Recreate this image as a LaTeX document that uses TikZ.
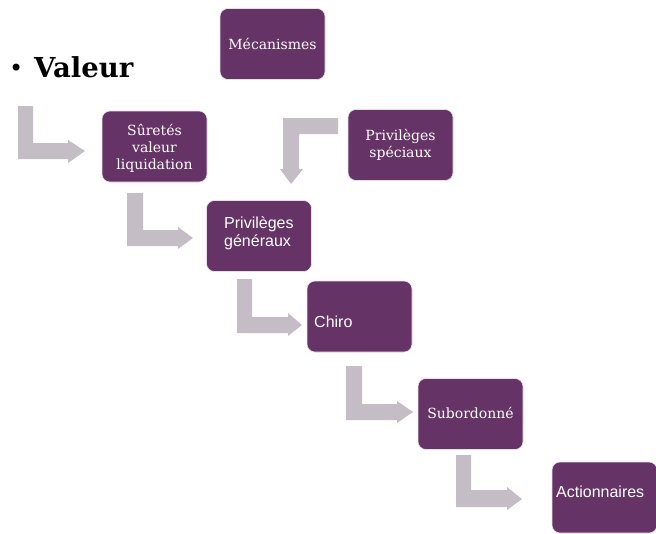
\documentclass[tikz,border=0pt]{standalone}
\usepackage{fontspec}
\newfontfamily\slab{DejaVu Serif}
\newfontfamily\arialf{Liberation Sans}
\newfontfamily\dvsans{DejaVu Sans}
\definecolor{boxpurple}{RGB}{101,51,101}
\definecolor{arrgrey}{RGB}{196,189,198}
\tikzset{
  box/.style={draw=white!85!boxpurple, line width=0.6pt, fill=boxpurple, rounded corners=8pt,
    minimum width=105pt, minimum height=71pt, inner sep=0pt},
  slabtxt/.style={anchor=base, text=white, inner sep=0pt, font=\slab\fontsize{14}{17}\selectfont},
  sanstxt/.style={anchor=base west, text=white, inner sep=0pt, font=\arialf\fontsize{16}{18}\selectfont},
  bentarrow/.style={fill=arrgrey, draw=none}
}
\begin{document}
\begin{tikzpicture}[x=1pt,y=-1pt]
\useasboundingbox (0,0) rectangle (656,533);
% title
\node[anchor=base west, inner sep=0pt, font=\dvsans\fontsize{24}{26}\selectfont] (bul) at (9,76) {•};
\node[anchor=base west, inner sep=0pt, font=\slab\bfseries\fontsize{27.5}{30}\selectfont] (val) at (34,77) {Valeur};
% boxes
\node[box] (mec) at (272.5,44) {};
\node[box] (sur) at (154.5,146.5) {};
\node[box] (spec) at (400.5,145) {};
\node[box] (gen) at (259,236) {};
\node[box] (chiro) at (359.5,316.5) {};
\node[box] (sub) at (470.5,414) {};
\node[box] (act) at (604.5,497.5) {};
% labels
\node[slabtxt] (mect) at (272.5,49) {Mécanismes};
\node[slabtxt] (surt1) at (154.5,135) {Sûretés};
\node[slabtxt] (surt2) at (154.5,152) {valeur};
\node[slabtxt] (surt3) at (154.5,169) {liquidation};
\node[slabtxt] (spect1) at (400.5,140) {Privilèges};
\node[slabtxt] (spect2) at (400.5,157) {spéciaux};
\node[sanstxt] (gent1) at (224,228) {Privilèges};
\node[sanstxt] (gent2) at (224,246) {généraux};
\node[sanstxt] (chirot) at (314,327) {Chiro};
\node[slabtxt] (subt) at (470.5,418) {Subordonné};
\node[sanstxt] (actt) at (556,497) {Actionnaires};
% bent arrows
\fill[bentarrow] (18,106) -- (33,106) -- (33,143) -- (68,143) -- (68,140) -- (85,151) -- (68,163) -- (68,159) -- (18,159) -- cycle;
\fill[bentarrow] (338,118) -- (338,134) -- (299,134) -- (299,169) -- (303,169) -- (291,184) -- (280,169) -- (283,169) -- (283,118) -- cycle;
\fill[bentarrow] (127,193) -- (143,193) -- (143,230) -- (178,230) -- (178,227) -- (193,238) -- (178,249) -- (178,246) -- (127,246) -- cycle;
\fill[bentarrow] (237,279) -- (252,279) -- (252,317) -- (288,317) -- (288,313) -- (302,325) -- (288,336) -- (288,333) -- (237,333) -- cycle;
\fill[bentarrow] (346,366) -- (362,366) -- (362,404) -- (397,404) -- (397,401) -- (413,412) -- (397,423) -- (397,420) -- (346,420) -- cycle;
\fill[bentarrow] (456,455) -- (471,455) -- (471,490) -- (507,490) -- (507,487) -- (522,499) -- (507,510) -- (507,507) -- (456,507) -- cycle;
\end{tikzpicture}
\end{document}
